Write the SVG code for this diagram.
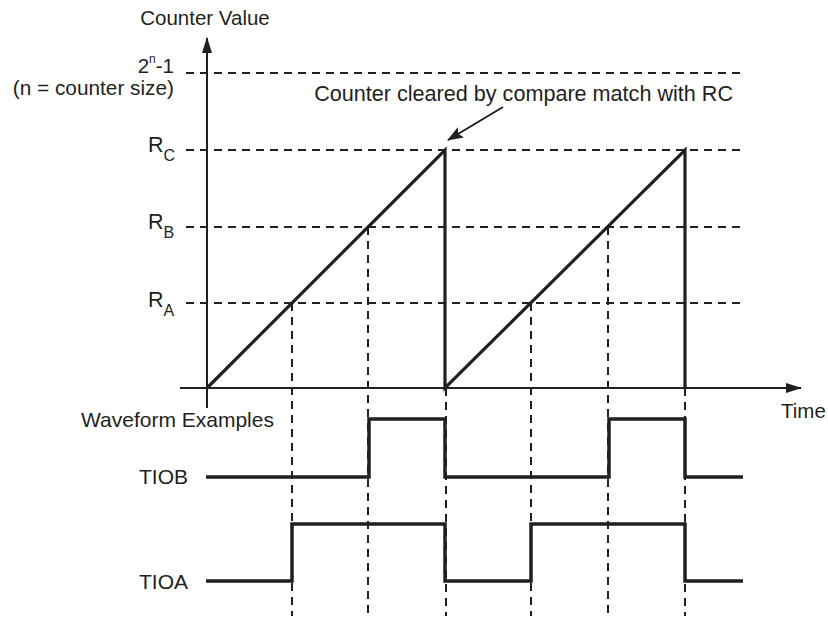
<svg xmlns="http://www.w3.org/2000/svg" width="828" height="618" viewBox="0 0 828 618">
<style>
text{font-family:"Liberation Sans",Arial,sans-serif;fill:#231f20}
.dash{stroke:#231f20;stroke-width:2;stroke-dasharray:8 6;fill:none}
.axis{stroke:#231f20;stroke-width:2;fill:none}
.ramp{stroke:#231f20;stroke-width:3.2;fill:none;stroke-linejoin:miter}
.wave{stroke:#231f20;stroke-width:3.5;fill:none;stroke-linejoin:miter}
.sub{font-size:16px}
</style>
<defs>
<marker id="ah" markerWidth="16" markerHeight="10" refX="15" refY="5" orient="auto" markerUnits="userSpaceOnUse">
<path d="M0,0 L16,5 L0,10 Z" fill="#231f20"/>
</marker>
<marker id="ah2" markerWidth="16" markerHeight="12" refX="15" refY="6" orient="auto" markerUnits="userSpaceOnUse">
<path d="M0,0 L16,6 L0,12 L3,6 Z" fill="#231f20"/>
</marker>
</defs>
<g id="guides">
<line class="dash" x1="186" y1="73" x2="742" y2="73"/>
<line class="dash" x1="186" y1="150" x2="742" y2="150"/>
<line class="dash" x1="186" y1="227" x2="742" y2="227"/>
<line class="dash" x1="186" y1="303" x2="742" y2="303"/>
<line class="dash" x1="292" y1="303" x2="292" y2="616"/>
<line class="dash" x1="368" y1="227" x2="368" y2="616"/>
<line class="dash" x1="446" y1="388" x2="446" y2="616"/>
<line class="dash" x1="531" y1="303" x2="531" y2="616"/>
<line class="dash" x1="608" y1="227" x2="608" y2="616"/>
<line class="dash" x1="685" y1="388" x2="685" y2="616"/>
</g>
<g id="axes">
<line class="axis" x1="207" y1="408" x2="207" y2="38" marker-end="url(#ah)"/>
<line class="axis" x1="180" y1="388" x2="801" y2="388" marker-end="url(#ah)"/>
</g>
<g id="counter">
<path class="ramp" d="M207,388 L445,150 L445,388 L685,150 L685,388"/>
</g>
<g id="connectors">
<line stroke="#231f20" stroke-width="2" x1="503" y1="107" x2="448" y2="140" marker-end="url(#ah2)"/>
</g>
<g id="tiob">
<path class="wave" d="M206,477 H369 V419 H445 V477 H609 V419 H685 V477 H743"/>
<text x="188" y="484" font-size="21" text-anchor="end">TIOB</text>
</g>
<g id="tioa">
<path class="wave" d="M206,581 H292 V524 H445 V581 H531 V524 H685 V581 H743"/>
<text x="188" y="589" font-size="21" text-anchor="end">TIOA</text>
</g>
<g id="labels">
<text x="205" y="25" font-size="20.5" text-anchor="middle">Counter Value</text>
<text x="174" y="73" font-size="20.5" text-anchor="end">2<tspan font-size="12" dy="-10">n</tspan><tspan dy="10">-1</tspan></text>
<text x="174" y="95" font-size="20.8" text-anchor="end">(n = counter size)</text>
<text x="733" y="101" font-size="21.6" text-anchor="end">Counter cleared by compare match with RC</text>
<text x="148" y="152" font-size="21.5">R<tspan class="sub" dy="9">C</tspan></text>
<text x="148" y="229" font-size="21.5">R<tspan class="sub" dy="9">B</tspan></text>
<text x="148" y="307" font-size="21.5">R<tspan class="sub" dy="9">A</tspan></text>
<text x="81" y="427" font-size="21">Waveform Examples</text>
<text x="781" y="418" font-size="20.5">Time</text>
</g>
</svg>
